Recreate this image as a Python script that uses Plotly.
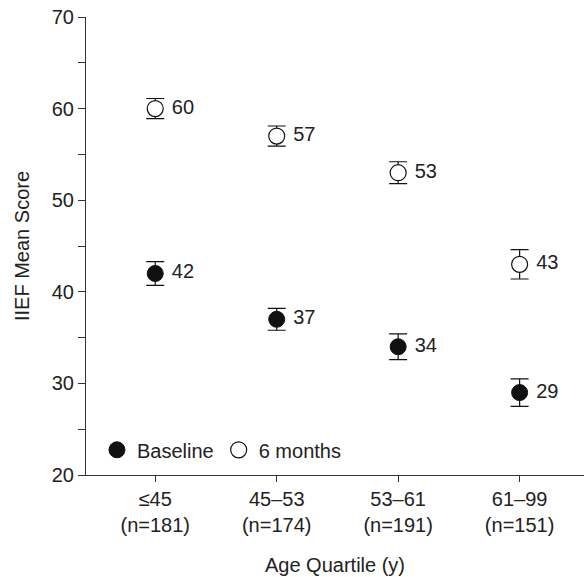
import plotly.graph_objects as go

categories = ["≤45<br>(n=181)", "45–53<br>(n=174)", "53–61<br>(n=191)", "61–99<br>(n=151)"]
baseline = [42, 37, 34, 29]
baseline_err = [1.3, 1.2, 1.4, 1.5]
six_months = [60, 57, 53, 43]
six_months_err = [1.1, 1.1, 1.2, 1.6]

x_idx = list(range(len(categories)))
font = "Liberation Sans, Arial, sans-serif"

fig = go.Figure()
fig.add_trace(go.Scatter(
    x=x_idx, y=baseline, mode="markers+text", name="Baseline",
    text=[f" {v}" for v in baseline], textposition="middle right",
    textfont=dict(size=20, color="#222"),
    marker=dict(size=16, color="#111", line=dict(color="#111", width=1)),
    error_y=dict(type="data", array=baseline_err, color="#111", thickness=1.2, width=9),
))
fig.add_trace(go.Scatter(
    x=x_idx, y=six_months, mode="markers+text", name="6 months",
    text=[f" {v}" for v in six_months], textposition="middle right",
    textfont=dict(size=20, color="#222"),
    marker=dict(size=16, color="white", line=dict(color="#111", width=1.2)),
    error_y=dict(type="data", array=six_months_err, color="#111", thickness=1.2, width=9),
))

fig.update_layout(
    width=584, height=577,
    margin=dict(l=86, r=0, t=17, b=102),
    plot_bgcolor="white", paper_bgcolor="white",
    font=dict(family=font, size=20, color="#222"),
    showlegend=True,
    legend=dict(orientation="h", x=0.022, y=0.055, xanchor="left", yanchor="middle",
                font=dict(size=20), itemwidth=30, bgcolor="rgba(0,0,0,0)",
                traceorder="normal"),
    xaxis=dict(
        range=[-0.57, 3.53], tickmode="array", tickvals=x_idx, ticktext=categories,
        showline=True, linecolor="#333", linewidth=1.2, ticks="outside", ticklen=6,
        tickcolor="#333", showgrid=False, zeroline=False,
        title=dict(text="Age Quartile (y)", font=dict(size=20), standoff=22),
        tickfont=dict(size=20),
    ),
    yaxis=dict(
        range=[20, 70], tickvals=[20, 30, 40, 50, 60, 70],
        showline=True, linecolor="#333", linewidth=1.2, ticks="outside", ticklen=7,
        tickcolor="#333", showgrid=False, zeroline=False,
        minor=dict(tickvals=[25, 35, 45, 55, 65], ticks="outside", ticklen=7, tickcolor="#333"),
        title=dict(text="IIEF Mean Score", font=dict(size=20), standoff=16),
        tickfont=dict(size=20),
    ),
)

fig.write_html("out.html")
